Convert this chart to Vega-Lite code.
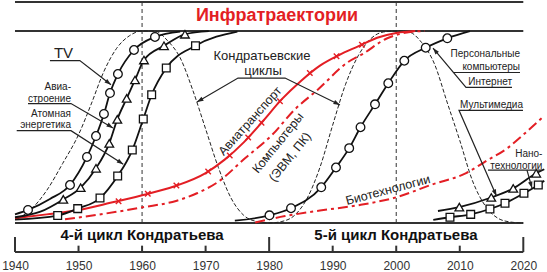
{
  "$schema": "https://vega.github.io/schema/vega-lite/v6.json",
  "width": 547,
  "height": 252,
  "padding": 0,
  "autosize": {"type": "pad"},
  "config": {"view": {"stroke": null}, "font": "Liberation Sans"},
  "encoding": {
    "x": {"field": "year", "type": "quantitative", "scale": {"domain": [1937.64, 2023.73], "nice": false, "zero": false},
      "axis": {"values": [1940, 1950, 1960, 1970, 1980, 1990, 2000, 2010, 2020], "format": "d", "domain": false, "ticks": false, "tickSize": 0, "grid": false, "labelFontSize": 12, "labelColor": "#333333", "labelFont": "Liberation Sans", "labelPadding": 8, "labelFlush": false, "title": null}},
    "y": {"field": "v", "type": "quantitative", "scale": {"domain": [-0.151, 1.1615], "nice": false, "zero": false}, "axis": null}
  },
  "layer": [
    {
      "data": {"values": [
        {"year": 1940, "year2": 2020, "v": 1.151},
        {"year": 1940, "year2": 2020, "v": 1.0},
        {"year": 1940, "year2": 2020, "v": 0.0},
        {"year": 1940, "year2": 2020, "v": -0.151}
      ]},
      "mark": {"type": "rule", "color": "#333333", "strokeWidth": 2},
      "encoding": {"x2": {"field": "year2"}}
    },
    {
      "data": {"values": [
        {"year": 1940, "v": -0.151, "v2": -0.073},
        {"year": 1980, "v": -0.151, "v2": -0.073},
        {"year": 2020, "v": -0.151, "v2": -0.073},
        {"year": 1950, "v": -0.151, "v2": -0.118},
        {"year": 1960, "v": -0.151, "v2": -0.118},
        {"year": 1970, "v": -0.151, "v2": -0.118},
        {"year": 1990, "v": -0.151, "v2": -0.118},
        {"year": 2000, "v": -0.151, "v2": -0.118},
        {"year": 2010, "v": -0.151, "v2": -0.118}
      ]},
      "mark": {"type": "rule", "color": "#333333", "strokeWidth": 2},
      "encoding": {"y2": {"field": "v2"}}
    },
    {
      "data": {"values": [
        {"year": 1960, "v": 0, "v2": 1.151},
        {"year": 2000, "v": 0, "v2": 1.151}
      ]},
      "mark": {"type": "rule", "color": "#333333", "strokeWidth": 1, "strokeDash": [4, 3]},
      "encoding": {"y2": {"field": "v2"}}
    },
    {
      "data": {"values": [
        {"year": 1940.3, "v": 0.02}, {"year": 1942.5, "v": 0.07}, {"year": 1945, "v": 0.17}, {"year": 1947.5, "v": 0.31},
        {"year": 1950, "v": 0.46}, {"year": 1952, "v": 0.62}, {"year": 1954, "v": 0.79}, {"year": 1956, "v": 0.91},
        {"year": 1958, "v": 0.975}, {"year": 1960, "v": 1.0}, {"year": 1962, "v": 1.0}, {"year": 1964, "v": 0.95},
        {"year": 1966, "v": 0.86}, {"year": 1968, "v": 0.69}, {"year": 1970, "v": 0.49}, {"year": 1972, "v": 0.29},
        {"year": 1974, "v": 0.13}, {"year": 1976, "v": 0.04}, {"year": 1978, "v": 0.008}, {"year": 1980, "v": 0.0},
        {"year": 1982, "v": 0.008}, {"year": 1984, "v": 0.04}, {"year": 1986, "v": 0.13}, {"year": 1988, "v": 0.29},
        {"year": 1990, "v": 0.51}, {"year": 1992, "v": 0.72}, {"year": 1994, "v": 0.87}, {"year": 1996, "v": 0.96},
        {"year": 1998, "v": 0.995}, {"year": 2000, "v": 1.0}, {"year": 2002, "v": 0.995}, {"year": 2004, "v": 0.94},
        {"year": 2006, "v": 0.83}, {"year": 2008, "v": 0.63}, {"year": 2010, "v": 0.43}, {"year": 2012, "v": 0.22},
        {"year": 2014, "v": 0.09}, {"year": 2016, "v": 0.025}, {"year": 2018, "v": 0.005}, {"year": 2020, "v": 0.0}
      ]},
      "mark": {"type": "line", "interpolate": "monotone", "color": "#222222", "strokeWidth": 1, "strokeDash": [4, 2]}
    },
    {
      "data": {"values": [
        {"s": "comp", "year": 1947.87, "v": 0.019}, {"s": "comp", "year": 1954, "v": 0.048}, {"s": "comp", "year": 1960.14, "v": 0.082},
        {"s": "comp", "year": 1965.34, "v": 0.115}, {"s": "comp", "year": 1968.64, "v": 0.155}, {"s": "comp", "year": 1971.95, "v": 0.214},
        {"s": "comp", "year": 1976.2, "v": 0.337}, {"s": "comp", "year": 1980.5, "v": 0.46}, {"s": "comp", "year": 1984, "v": 0.59},
        {"s": "comp", "year": 1987.6, "v": 0.693}, {"s": "comp", "year": 1992.5, "v": 0.84}, {"s": "comp", "year": 1994.7, "v": 0.88},
        {"s": "comp", "year": 1998.5, "v": 0.961}, {"s": "comp", "year": 2002.2, "v": 0.995}, {"s": "comp", "year": 2004.5, "v": 1.0},
        {"s": "bio", "year": 1977.8, "v": 0.003}, {"s": "bio", "year": 1982.5, "v": 0.036}, {"s": "bio", "year": 1988.0, "v": 0.065},
        {"s": "bio", "year": 1994.3, "v": 0.094}, {"s": "bio", "year": 2000.1, "v": 0.135}, {"s": "bio", "year": 2005.6, "v": 0.2},
        {"s": "bio", "year": 2011.0, "v": 0.26}, {"s": "bio", "year": 2014.0, "v": 0.32}, {"s": "bio", "year": 2017.5, "v": 0.39},
        {"s": "bio", "year": 2020.0, "v": 0.46}, {"s": "bio", "year": 2023.1, "v": 0.552}
      ]},
      "mark": {"type": "line", "interpolate": "monotone", "color": "#e31e24", "strokeWidth": 2, "strokeDash": [10, 4, 3, 4]},
      "encoding": {"detail": {"field": "s"}}
    },
    {
      "data": {"values": [
        {"year": 1940, "v": 0.025}, {"year": 1945, "v": 0.045}, {"year": 1950, "v": 0.068}, {"year": 1955, "v": 0.105},
        {"year": 1960, "v": 0.145}, {"year": 1965, "v": 0.19}, {"year": 1970, "v": 0.26}, {"year": 1973, "v": 0.33},
        {"year": 1976, "v": 0.42}, {"year": 1979, "v": 0.53}, {"year": 1982, "v": 0.645}, {"year": 1985, "v": 0.74},
        {"year": 1988, "v": 0.82}, {"year": 1991, "v": 0.875}, {"year": 1994, "v": 0.92}, {"year": 1997, "v": 0.965},
        {"year": 2000, "v": 0.99}, {"year": 2003, "v": 1.0}
      ]},
      "mark": {"type": "line", "interpolate": "monotone", "color": "#e31e24", "strokeWidth": 2}
    },
    {
      "data": {"values": [
        {"s": "tv", "year": 1940, "v": 0.045}, {"s": "tv", "year": 1942.05, "v": 0.068}, {"s": "tv", "year": 1945.5, "v": 0.125},
        {"s": "tv", "year": 1948.66, "v": 0.198}, {"s": "tv", "year": 1951.33, "v": 0.344}, {"s": "tv", "year": 1952.75, "v": 0.453},
        {"s": "tv", "year": 1954.0, "v": 0.568}, {"s": "tv", "year": 1954.95, "v": 0.677}, {"s": "tv", "year": 1956.2, "v": 0.776},
        {"s": "tv", "year": 1958.73, "v": 0.901}, {"s": "tv", "year": 1962.03, "v": 0.969}, {"s": "tv", "year": 1966.0, "v": 0.997},
        {"s": "av", "year": 1940, "v": 0.03}, {"s": "av", "year": 1944, "v": 0.059}, {"s": "av", "year": 1947.6, "v": 0.123},
        {"s": "av", "year": 1950.34, "v": 0.184}, {"s": "av", "year": 1952.75, "v": 0.285}, {"s": "av", "year": 1954.84, "v": 0.415},
        {"s": "av", "year": 1956.1, "v": 0.54}, {"s": "av", "year": 1957.58, "v": 0.649}, {"s": "av", "year": 1958.89, "v": 0.745},
        {"s": "av", "year": 1960.3, "v": 0.849}, {"s": "av", "year": 1963.45, "v": 0.923}, {"s": "av", "year": 1966.75, "v": 0.983},
        {"s": "av", "year": 1970.5, "v": 0.999},
        {"s": "at", "year": 1940, "v": 0.018}, {"s": "at", "year": 1946.72, "v": 0.039}, {"s": "at", "year": 1949.87, "v": 0.075},
        {"s": "at", "year": 1953.38, "v": 0.13}, {"s": "at", "year": 1956.16, "v": 0.245}, {"s": "at", "year": 1958.46, "v": 0.38},
        {"s": "at", "year": 1960.19, "v": 0.542}, {"s": "at", "year": 1961.51, "v": 0.668}, {"s": "at", "year": 1963.81, "v": 0.807},
        {"s": "at", "year": 1968.41, "v": 0.923}, {"s": "at", "year": 1975, "v": 0.997},
        {"s": "pc", "year": 1974.6, "v": 0.012}, {"s": "pc", "year": 1980.05, "v": 0.04}, {"s": "pc", "year": 1983.44, "v": 0.077},
        {"s": "pc", "year": 1988.2, "v": 0.186}, {"s": "pc", "year": 1990.52, "v": 0.289}, {"s": "pc", "year": 1992.6, "v": 0.39},
        {"s": "pc", "year": 1994.38, "v": 0.499}, {"s": "pc", "year": 1996.66, "v": 0.618}, {"s": "pc", "year": 1998.75, "v": 0.728},
        {"s": "pc", "year": 2001.27, "v": 0.845}, {"s": "pc", "year": 2004.64, "v": 0.913}, {"s": "pc", "year": 2008.04, "v": 0.962},
        {"s": "pc", "year": 2011.6, "v": 0.999},
        {"s": "nt", "year": 2006.57, "v": 0.0625}, {"s": "nt", "year": 2009.93, "v": 0.083}, {"s": "nt", "year": 2014.96, "v": 0.133},
        {"s": "nt", "year": 2018.42, "v": 0.18}, {"s": "nt", "year": 2022.03, "v": 0.259}, {"s": "nt", "year": 2023.3, "v": 0.28},
        {"s": "ns", "year": 2005.83, "v": 0.016}, {"s": "ns", "year": 2008.46, "v": 0.03}, {"s": "ns", "year": 2011.72, "v": 0.045},
        {"s": "ns", "year": 2014.75, "v": 0.073}, {"s": "ns", "year": 2017.12, "v": 0.103}, {"s": "ns", "year": 2020.1, "v": 0.155},
        {"s": "ns", "year": 2022.36, "v": 0.198}, {"s": "ns", "year": 2023.3, "v": 0.22}
      ]},
      "mark": {"type": "line", "interpolate": "monotone", "color": "#111111", "strokeWidth": 1.8},
      "encoding": {"detail": {"field": "s"}}
    },
    {
      "data": {"values": [
        {"year": 1956.3, "v": 0.113}, {"year": 1960.9, "v": 0.152}, {"year": 1965.4, "v": 0.195}, {"year": 1970.4, "v": 0.268},
        {"year": 1973.8, "v": 0.352}, {"year": 1976.7, "v": 0.445}, {"year": 1978.8, "v": 0.522}, {"year": 1981.7, "v": 0.634},
        {"year": 1986.4, "v": 0.781}, {"year": 1990.6, "v": 0.869}, {"year": 1994.6, "v": 0.928}
      ]},
      "mark": {"type": "point", "shape": "M-1,-1L1,1M-1,1L1,-1", "size": 30, "filled": false, "stroke": "#e31e24", "strokeWidth": 1.4, "opacity": 1}
    },
    {
      "data": {"values": [
        {"year": 1942.05, "v": 0.068}, {"year": 1948.66, "v": 0.198}, {"year": 1951.33, "v": 0.344}, {"year": 1952.75, "v": 0.453},
        {"year": 1954.0, "v": 0.568}, {"year": 1954.95, "v": 0.677}, {"year": 1956.2, "v": 0.776}, {"year": 1958.73, "v": 0.901},
        {"year": 1962.03, "v": 0.969},
        {"year": 1980.05, "v": 0.04}, {"year": 1983.44, "v": 0.077}, {"year": 1988.2, "v": 0.186}, {"year": 1990.52, "v": 0.289},
        {"year": 1992.6, "v": 0.39}, {"year": 1994.38, "v": 0.499}, {"year": 1996.66, "v": 0.618}, {"year": 1998.75, "v": 0.728},
        {"year": 2001.27, "v": 0.845}, {"year": 2004.64, "v": 0.913}, {"year": 2008.04, "v": 0.962}
      ]},
      "mark": {"type": "point", "shape": "circle", "size": 75, "filled": true, "fill": "#ffffff", "stroke": "#111111", "strokeWidth": 1.3, "opacity": 1}
    },
    {
      "data": {"values": [
        {"year": 1947.6, "v": 0.123}, {"year": 1950.34, "v": 0.184}, {"year": 1952.75, "v": 0.285}, {"year": 1954.84, "v": 0.415},
        {"year": 1956.1, "v": 0.54}, {"year": 1957.58, "v": 0.649}, {"year": 1958.89, "v": 0.745}, {"year": 1960.3, "v": 0.849},
        {"year": 1963.45, "v": 0.923}, {"year": 1966.75, "v": 0.983},
        {"year": 2009.93, "v": 0.083}, {"year": 2014.96, "v": 0.133}, {"year": 2018.42, "v": 0.18}, {"year": 2022.03, "v": 0.259}
      ]},
      "mark": {"type": "point", "shape": "triangle-up", "size": 75, "filled": true, "fill": "#ffffff", "stroke": "#111111", "strokeWidth": 1.3, "opacity": 1}
    },
    {
      "data": {"values": [
        {"year": 1946.72, "v": 0.039}, {"year": 1949.87, "v": 0.075}, {"year": 1953.38, "v": 0.13}, {"year": 1956.16, "v": 0.245},
        {"year": 1958.46, "v": 0.38}, {"year": 1960.19, "v": 0.542}, {"year": 1961.51, "v": 0.668}, {"year": 1963.81, "v": 0.807},
        {"year": 1968.41, "v": 0.923},
        {"year": 2008.46, "v": 0.03}, {"year": 2011.72, "v": 0.045}, {"year": 2014.75, "v": 0.073}, {"year": 2017.12, "v": 0.103},
        {"year": 2020.1, "v": 0.155}, {"year": 2022.36, "v": 0.198}
      ]},
      "mark": {"type": "point", "shape": "square", "size": 60, "filled": true, "fill": "#ffffff", "stroke": "#111111", "strokeWidth": 1.3, "opacity": 1}
    },
    {
      "data": {"values": [
        {"s": "tv", "i": 0, "year": 1945.5, "v": 0.846}, {"s": "tv", "i": 1, "year": 1950.2, "v": 0.846}, {"s": "tv", "i": 2, "year": 1955.11, "v": 0.72},
        {"s": "av", "i": 0, "year": 1942.05, "v": 0.622}, {"s": "av", "i": 1, "year": 1948.81, "v": 0.622}, {"s": "av", "i": 2, "year": 1955.42, "v": 0.495},
        {"s": "at", "i": 0, "year": 1940.27, "v": 0.481}, {"s": "at", "i": 1, "year": 1948.81, "v": 0.481}, {"s": "at", "i": 2, "year": 1957.04, "v": 0.306},
        {"s": "kc", "i": 0, "year": 1968.64, "v": 0.63}, {"s": "kc", "i": 1, "year": 1975.1, "v": 0.755}, {"s": "kc", "i": 2, "year": 1982.5, "v": 0.755}, {"s": "kc", "i": 3, "year": 1991.15, "v": 0.615},
        {"s": "pcu", "i": 0, "year": 2008.93, "v": 0.784}, {"s": "pcu", "i": 1, "year": 2019.48, "v": 0.784},
        {"s": "in", "i": 0, "year": 2005.79, "v": 0.911}, {"s": "in", "i": 1, "year": 2010.98, "v": 0.706}, {"s": "in", "i": 2, "year": 2018.22, "v": 0.706},
        {"s": "mm", "i": 0, "year": 2015.78, "v": 0.141}, {"s": "mm", "i": 1, "year": 2009.88, "v": 0.587}, {"s": "mm", "i": 2, "year": 2019.95, "v": 0.587},
        {"s": "nu", "i": 0, "year": 2014.44, "v": 0.275}, {"s": "nu", "i": 1, "year": 2023.0, "v": 0.275},
        {"s": "np", "i": 0, "year": 2020.58, "v": 0.275}, {"s": "np", "i": 1, "year": 2021.37, "v": 0.182}
      ]},
      "mark": {"type": "line", "color": "#222222", "strokeWidth": 1.2},
      "encoding": {"detail": {"field": "s"}, "order": {"field": "i"}}
    },
    {"data": {"values": [{"year": 1955.11, "v": 0.72}]}, "mark": {"type": "point", "shape": "M0,0L-0.9,2.6L0.9,2.6Z", "size": 25, "filled": true, "color": "#222222", "opacity": 1, "angle": 128}},
    {"data": {"values": [{"year": 1955.42, "v": 0.495}]}, "mark": {"type": "point", "shape": "M0,0L-0.9,2.6L0.9,2.6Z", "size": 25, "filled": true, "color": "#222222", "opacity": 1, "angle": 122}},
    {"data": {"values": [{"year": 1957.04, "v": 0.306}]}, "mark": {"type": "point", "shape": "M0,0L-0.9,2.6L0.9,2.6Z", "size": 25, "filled": true, "color": "#222222", "opacity": 1, "angle": 124}},
    {"data": {"values": [{"year": 1968.64, "v": 0.63}]}, "mark": {"type": "point", "shape": "M0,0L-0.9,2.6L0.9,2.6Z", "size": 25, "filled": true, "color": "#222222", "opacity": 1, "angle": -120}},
    {"data": {"values": [{"year": 1991.15, "v": 0.615}]}, "mark": {"type": "point", "shape": "M0,0L-0.9,2.6L0.9,2.6Z", "size": 25, "filled": true, "color": "#222222", "opacity": 1, "angle": 116}},
    {"data": {"values": [{"year": 2005.79, "v": 0.911}]}, "mark": {"type": "point", "shape": "M0,0L-0.9,2.6L0.9,2.6Z", "size": 25, "filled": true, "color": "#222222", "opacity": 1, "angle": -40}},
    {"data": {"values": [{"year": 2015.78, "v": 0.141}]}, "mark": {"type": "point", "shape": "M0,0L-0.9,2.6L0.9,2.6Z", "size": 25, "filled": true, "color": "#222222", "opacity": 1, "angle": 156}},
    {"data": {"values": [{"year": 2021.37, "v": 0.182}]}, "mark": {"type": "point", "shape": "M0,0L-0.9,2.6L0.9,2.6Z", "size": 25, "filled": true, "color": "#222222", "opacity": 1, "angle": 164}},
    {
      "data": {"values": [{"year": 1981.23, "v": 1.078, "t": "Инфратраектории"}]},
      "mark": {"type": "text", "font": "Liberation Sans", "fontSize": 18, "fontWeight": "bold", "color": "#e31e24", "align": "center", "baseline": "middle"},
      "encoding": {"text": {"field": "t"}}
    },
    {
      "data": {"values": [
        {"year": 1959.99, "v": -0.065, "t": "4-й цикл Кондратьева"},
        {"year": 1999.96, "v": -0.065, "t": "5-й цикл Кондратьева"}
      ]},
      "mark": {"type": "text", "font": "Liberation Sans", "fontSize": 15, "fontWeight": "bold", "color": "#111111", "align": "center", "baseline": "middle"},
      "encoding": {"text": {"field": "t"}}
    },
    {
      "data": {"values": [{"year": 1947.63, "v": 0.885, "t": "TV"}]},
      "mark": {"type": "text", "font": "Liberation Sans", "fontSize": 15, "color": "#222222", "align": "center", "baseline": "middle"},
      "encoding": {"text": {"field": "t"}}
    },
    {
      "data": {"values": [
        {"year": 1978.87, "v": 0.87, "t": "Кондратьевские"},
        {"year": 1979.03, "v": 0.792, "t": "циклы"}
      ]},
      "mark": {"type": "text", "font": "Liberation Sans", "fontSize": 13, "color": "#222222", "align": "center", "baseline": "middle"},
      "encoding": {"text": {"field": "t"}}
    },
    {
      "data": {"values": [
        {"year": 1948.81, "v": 0.71, "t": "Авиа-"},
        {"year": 1948.81, "v": 0.648, "t": "строение"},
        {"year": 1948.81, "v": 0.57, "t": "Атомная"},
        {"year": 1948.81, "v": 0.508, "t": "энергетика"},
        {"year": 2019.48, "v": 0.879, "t": "Персональные"},
        {"year": 2019.48, "v": 0.815, "t": "компьютеры"},
        {"year": 2018.22, "v": 0.737, "t": "Интернет"},
        {"year": 2019.95, "v": 0.615, "t": "Мультимедиа"},
        {"year": 2023.0, "v": 0.361, "t": "Нано-"},
        {"year": 2023.0, "v": 0.299, "t": "технологии"}
      ]},
      "mark": {"type": "text", "font": "Liberation Sans", "fontSize": 10, "color": "#222222", "align": "right", "baseline": "middle"},
      "encoding": {"text": {"field": "t"}}
    },
    {
      "data": {"values": [{"year": 1976.98, "v": 0.531, "t": "Авиатранспорт"}]},
      "mark": {"type": "text", "font": "Liberation Sans", "fontSize": 12.5, "color": "#222222", "align": "center", "baseline": "middle", "angle": -48},
      "encoding": {"text": {"field": "t"}}
    },
    {
      "data": {"values": [
        {"year": 1981.39, "v": 0.417, "t": "Компьютеры"},
        {"year": 1983.28, "v": 0.344, "t": "(ЭВМ, ПК)"}
      ]},
      "mark": {"type": "text", "font": "Liberation Sans", "fontSize": 12.5, "color": "#222222", "align": "center", "baseline": "middle", "angle": -51},
      "encoding": {"text": {"field": "t"}}
    },
    {
      "data": {"values": [{"year": 1998.7, "v": 0.172, "t": "Биотехнологии"}]},
      "mark": {"type": "text", "font": "Liberation Sans", "fontSize": 12.5, "color": "#222222", "align": "center", "baseline": "middle", "angle": -15},
      "encoding": {"text": {"field": "t"}}
    }
  ]
}
